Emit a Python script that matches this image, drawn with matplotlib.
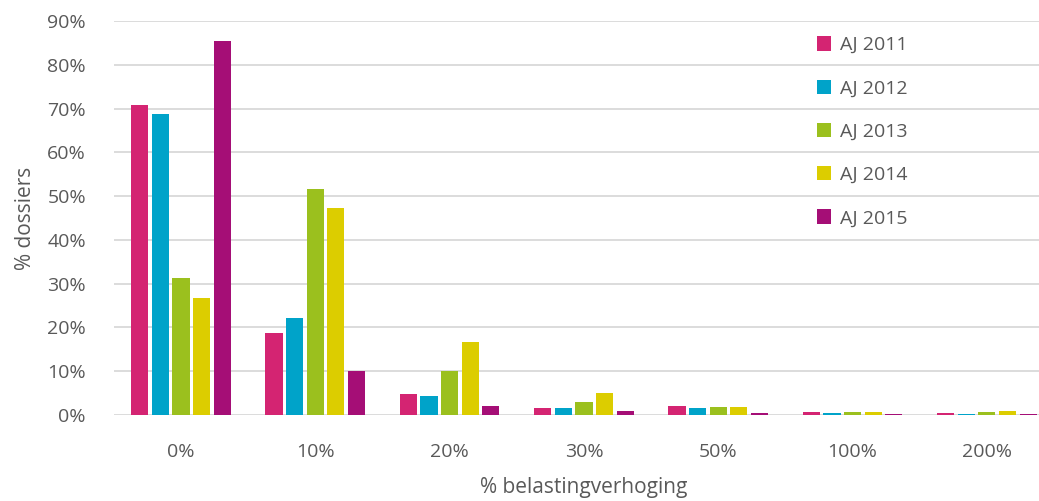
import numpy as np
import matplotlib
matplotlib.use("Agg")
import matplotlib.pyplot as plt
from matplotlib.ticker import FuncFormatter

categories = ["0%", "10%", "20%", "30%", "50%", "100%", "200%"]
years = ["AJ 2011", "AJ 2012", "AJ 2013", "AJ 2014", "AJ 2015"]

aj_2011 = [70.8, 18.8, 4.8, 1.6, 2.1, 0.6, 0.5]
aj_2012 = [68.8, 22.1, 4.4, 1.5, 1.5, 0.45, 0.3]
aj_2013 = [31.3, 51.6, 10.0, 3.0, 1.9, 0.75, 0.75]
aj_2014 = [26.7, 47.3, 16.7, 4.9, 1.9, 0.75, 0.8]
aj_2015 = [85.4, 10.0, 2.1, 0.8, 0.45, 0.15, 0.2]

colors = ["#D42472", "#00A3C9", "#9BC01E", "#DCCD00", "#A50E76"]
text_color = "#595959"

plt.rcParams['font.family'] = ['Open Sans', 'DejaVu Sans']

fig = plt.figure(figsize=(10.39, 5.01), dpi=100)
ax = fig.add_axes([0.1095, 0.172, 0.905, 0.786])

x = np.arange(len(categories))
pitch = 0.1535
series = [aj_2011, aj_2012, aj_2013, aj_2014, aj_2015]
for i, (vals, col, lab) in enumerate(zip(series, colors, years)):
    ax.bar(x + (i - 2) * pitch, vals, width=0.128, color=col, label=lab,
           linewidth=0, zorder=3)

ax.set_xlim(-0.5, len(categories) - 0.5)
ax.set_ylim(0, 90)
ax.set_yticks(np.arange(0, 91, 10))
ax.yaxis.set_major_formatter(FuncFormatter(lambda v, p: f"{int(v)}%"))
ax.set_xticks(x)
ax.set_xticklabels(categories)

ax.grid(axis="y", color="#D9D9D9", linewidth=1.3, zorder=0)
ax.set_axisbelow(True)
for s in ax.spines.values():
    s.set_visible(False)
ax.tick_params(axis="both", length=0, labelsize=14, colors=text_color)
ax.tick_params(axis="x", pad=20)
ax.tick_params(axis="y", pad=20)

ax.set_ylabel("% dossiers", fontsize=15, color=text_color, labelpad=8)
ax.set_xlabel("% belastingverhoging", fontsize=15, color=text_color, labelpad=12)

leg = ax.legend(loc="upper left", bbox_to_anchor=(0.729, 1.006), frameon=False,
                fontsize=14, labelcolor=text_color, handlelength=0.75,
                handleheight=0.75, handletextpad=0.45, labelspacing=1.3)

fig.savefig("out.png", dpi=100, facecolor="white")
